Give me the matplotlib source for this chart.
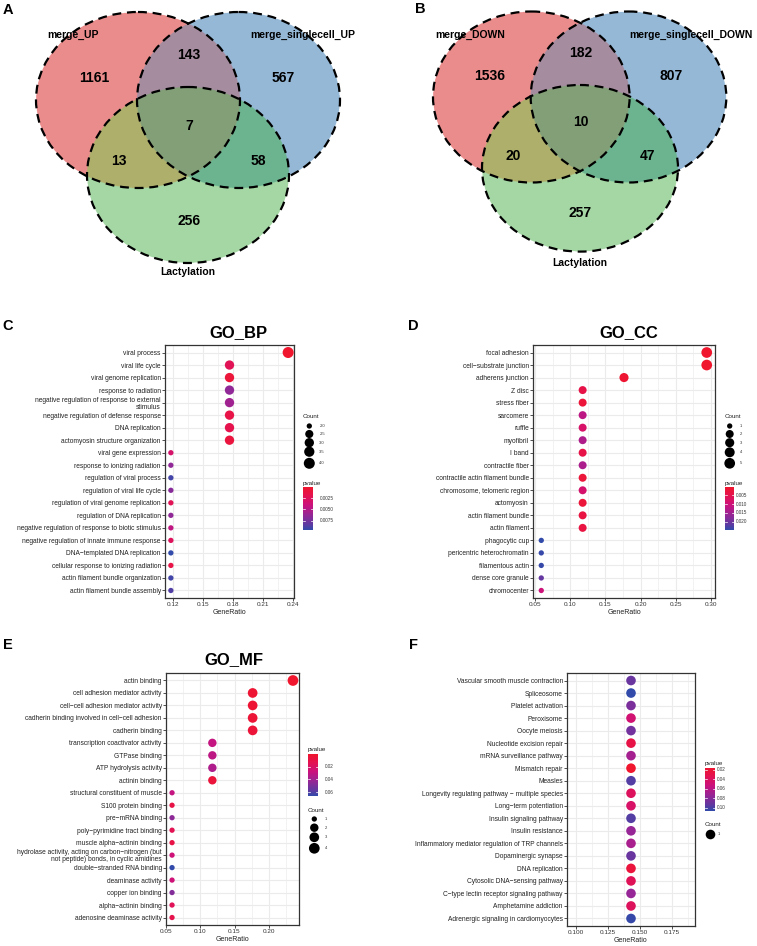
import numpy as np
import matplotlib
matplotlib.use('Agg')
import matplotlib.pyplot as plt
from matplotlib.patches import Ellipse
from matplotlib.colors import LinearSegmentedColormap, Normalize

plt.rcParams['font.family'] = ['Liberation Sans', 'DejaVu Sans']

# ---------------- DATA ----------------
venn_a_sets = ['merge_UP', 'merge_singlecell_UP', 'Lactylation']
venn_b_sets = ['merge_DOWN', 'merge_singlecell_DOWN', 'Lactylation']
venn_regions = ['100', '110', '010', '111', '101', '011', '001']
venn_a_values = [1161, 143, 567, 7, 13, 58, 256]
venn_b_values = [1536, 182, 807, 10, 20, 47, 257]

bp_terms = ['viral process', 'viral life cycle', 'viral genome replication', 'response to radiation',
            'negative regulation of response to external\nstimulus', 'negative regulation of defense response',
            'DNA replication', 'actomyosin structure organization', 'viral gene expression',
            'response to ionizing radiation', 'regulation of viral process', 'regulation of viral life cycle',
            'regulation of viral genome replication', 'regulation of DNA replication',
            'negative regulation of response to biotic stimulus', 'negative regulation of innate immune response',
            'DNA\u2212templated DNA replication', 'cellular response to ionizing radiation',
            'actin filament bundle organization', 'actin filament bundle assembly']
bp_counts = [4, 3, 3, 3, 3, 3, 3, 3, 2, 2, 2, 2, 2, 2, 2, 2, 2, 2, 2, 2]
bp_total = 17
bp_pvalue = [0.00007, 0.0022, 0.0008, 0.0064, 0.0058, 0.0014, 0.0018, 0.0010, 0.0032, 0.0064,
             0.0090, 0.0068, 0.0022, 0.0064, 0.0045, 0.0025, 0.0095, 0.0014, 0.0090, 0.0086]

cc_terms = ['focal adhesion', 'cell\u2212substrate junction', 'adherens junction', 'Z disc', 'stress fiber',
            'sarcomere', 'ruffle', 'myofibril', 'I band', 'contractile fiber',
            'contractile actin filament bundle', 'chromosome, telomeric region', 'actomyosin',
            'actin filament bundle', 'actin filament', 'phagocytic cup', 'pericentric heterochromatin',
            'filamentous actin', 'dense core granule', 'chromocenter']
cc_counts = [5, 5, 3, 2, 2, 2, 2, 2, 2, 2, 2, 2, 2, 2, 2, 1, 1, 1, 1, 1]
cc_total = 17
cc_pvalue = [0.00016, 0.0003, 0.0010, 0.0040, 0.0020, 0.0120, 0.0080, 0.0135, 0.0040, 0.0140,
             0.0020, 0.0085, 0.0020, 0.0030, 0.0030, 0.0248, 0.0245, 0.0245, 0.0210, 0.0100]

mf_terms = ['actin binding', 'cell adhesion mediator activity', 'cell\u2212cell adhesion mediator activity',
            'cadherin binding involved in cell\u2212cell adhesion', 'cadherin binding',
            'transcription coactivator activity', 'GTPase binding', 'ATP hydrolysis activity',
            'actinin binding', 'structural constituent of muscle', 'S100 protein binding',
            'pre\u2212mRNA binding', 'poly\u2212pyrimidine tract binding', 'muscle alpha\u2212actinin binding',
            'hydrolase activity, acting on carbon\u2212nitrogen (but\nnot peptide) bonds, in cyclic amidines',
            'double\u2212stranded RNA binding', 'deaminase activity', 'copper ion binding',
            'alpha\u2212actinin binding', 'adenosine deaminase activity']
mf_counts = [4, 3, 3, 3, 3, 2, 2, 2, 2, 1, 1, 1, 1, 1, 1, 1, 1, 1, 1, 1]
mf_total = 17
mf_pvalue = [0.0004, 0.0030, 0.0030, 0.0040, 0.0050, 0.0300, 0.0320, 0.0360, 0.0060, 0.0300,
             0.0100, 0.0450, 0.0140, 0.0100, 0.0260, 0.0658, 0.0260, 0.0480, 0.0160, 0.0120]

kegg_terms = ['Vascular smooth muscle contraction', 'Spliceosome', 'Platelet activation', 'Peroxisome',
              'Oocyte meiosis', 'Nucleotide excision repair', 'mRNA surveillance pathway', 'Mismatch repair',
              'Measles', 'Longevity regulating pathway \u2212 multiple species', 'Long\u2212term potentiation',
              'Insulin signaling pathway', 'Insulin resistance',
              'Inflammatory mediator regulation of TRP channels', 'Dopaminergic synapse', 'DNA replication',
              'Cytosolic DNA\u2212sensing pathway', 'C\u2212type lectin receptor signaling pathway',
              'Amphetamine addiction', 'Adrenergic signaling in cardiomyocytes']
kegg_counts = [1] * 20
kegg_total = 7
kegg_pvalue = [0.092, 0.1073, 0.085, 0.050, 0.088, 0.030, 0.070, 0.0164, 0.098, 0.040,
               0.045, 0.098, 0.075, 0.068, 0.092, 0.025, 0.038, 0.075, 0.040, 0.106]

# ---------------- SETUP ----------------
W, H = 757, 946
fig = plt.figure(figsize=(W / 100, H / 100), dpi=100)


def add_px_axes(x0, y0, x1, y1):
    return fig.add_axes([x0 / W, 1 - y1 / H, (x1 - x0) / W, (y1 - y0) / H])


ov = fig.add_axes([0, 0, 1, 1])
ov.set_xlim(0, W)
ov.set_ylim(H, 0)
ov.axis('off')

# low p = red, high p = blue (vivid magenta / purple midtones)
cmap = LinearSegmentedColormap.from_list('pv', [
    (0.00, (240 / 255, 22 / 255, 45 / 255)),
    (0.20, (228 / 255, 18 / 255, 80 / 255)),
    (0.42, (203 / 255, 18 / 255, 125 / 255)),
    (0.65, (150 / 255, 38 / 255, 150 / 255)),
    (0.85, (100 / 255, 55 / 255, 160 / 255)),
    (1.00, (50 / 255, 75 / 255, 170 / 255)),
])

# ---------------- VENN ----------------
# colour of each region (membership code red/blue/green)
venn_region_colors = {
    '100': (235, 140, 140), '010': (150, 185, 215), '001': (165, 215, 165),
    '110': (165, 140, 160), '101': (175, 175, 108), '011': (108, 180, 145),
    '111': (130, 160, 120),
}


def venn(box, ellipses, sets, values, label_xy, value_xy):
    x0, y0, x1, y1 = box
    ss = 3
    xs = x0 + (np.arange((x1 - x0) * ss) + 0.5) / ss
    ys = y0 + (np.arange((y1 - y0) * ss) + 0.5) / ss
    X, Y = np.meshgrid(xs, ys)
    inside = [((X - cx) / rx) ** 2 + ((Y - cy) / ry) ** 2 <= 1 for (cx, cy, rx, ry) in ellipses]
    img = np.ones(X.shape + (4,))
    img[..., 3] = 0
    for code, col in venn_region_colors.items():
        m = np.ones(X.shape, bool)
        for k, ch in enumerate(code):
            m &= inside[k] if ch == '1' else ~inside[k]
        img[m, :3] = np.array(col) / 255
        img[m, 3] = 1
    ov.imshow(img, extent=[x0, x1, y1, y0], origin='upper', interpolation='antialiased', zorder=1)
    for (cx, cy, rx, ry) in ellipses:
        ov.add_patch(Ellipse((cx, cy), 2 * rx, 2 * ry, facecolor='none', edgecolor='black',
                             lw=1.6, linestyle=(0, (4, 2.6)), zorder=2))
    for s, (x, y) in zip(sets, label_xy):
        ov.text(x, y, s, ha='center', va='center', fontsize=7.5, fontweight='bold', zorder=3)
    for v, (x, y) in zip(values, value_xy):
        ov.text(x, y, str(v), ha='center', va='center', fontsize=10, fontweight='bold', zorder=3)


venn((20, 0, 360, 280), [(138, 100, 102, 88), (238.5, 100, 101.5, 88), (188, 175, 101, 88)],
     venn_a_sets, venn_a_values,
     [(73, 35), (303, 35), (188, 272)],
     [(94, 78), (189, 55), (283, 78), (189, 126), (119, 161), (258, 161), (189, 221)])
venn((420, 0, 745, 270), [(531.3, 97, 98.3, 85.5), (628.5, 97, 97.8, 85.5), (580, 168.3, 98, 83.3)],
     venn_b_sets, venn_b_values,
     [(470, 35), (691, 35), (580, 263)],
     [(490, 76), (581, 53), (671, 76), (581, 122), (513, 156), (647, 156), (580, 213)])
ov.set_xlim(0, W)
ov.set_ylim(H, 0)

# panel letters
for letter, (x, y) in zip('ABCDEF', [(7.5, 9.5), (420.5, 9), (7.5, 325.5), (413.5, 326), (7.5, 645), (413.5, 645)]):
    ov.text(x, y, letter, ha='center', va='center', fontsize=10.5, fontweight='bold')


# ---------------- DOT PLOTS ----------------
def size_px(c, cmin, cmax, dmin, dmax):
    c = np.asarray(c, float)
    if cmax == cmin:
        frac = np.full_like(c, 0.5)
    else:
        frac = (c - cmin) / (cmax - cmin)
    return dmin + (dmax - dmin) * np.sqrt(frac)


def dotplot(box, terms, counts, total, pvals, xticks, xticklabels, xminor, dmin, dmax,
            cb_box, cb_ticks, cb_labels, cb_label_x, cb_title_y,
            sz_vals, sz_labels, sz_ys, sz_x, sz_label_x, sz_title_y, title=None, title_xy=None):
    ax = add_px_axes(*box)
    counts = np.asarray(counts)
    ratio = counts / total
    n = len(terms)
    y = np.arange(n)
    lo_, hi_ = ratio.min(), ratio.max()
    rng = hi_ - lo_
    pad = 0.05 * rng if rng > 0 else 0.05
    ax.set_xlim(lo_ - pad, hi_ + pad)
    ax.set_ylim(n - 1 + 0.6, -0.6)
    norm = Normalize(vmin=min(pvals), vmax=max(pvals))
    cmin, cmax = counts.min(), counts.max()
    d = size_px(counts, cmin, cmax, dmin, dmax)
    ax.scatter(ratio, y, s=(d * 0.72) ** 2, c=pvals, cmap=cmap, norm=norm, linewidths=0, zorder=3)
    for xv in xticks:
        ax.axvline(xv, color='#EBEBEB', lw=0.8, zorder=0)
    for xv in xminor:
        ax.axvline(xv, color='#EBEBEB', lw=0.45, zorder=0)
    for yv in y:
        ax.axhline(yv, color='#EBEBEB', lw=0.8, zorder=0)
    ax.set_yticks(y)
    ax.set_yticklabels(terms)
    for lab in ax.get_yticklabels():
        lab.set_linespacing(1.0)
    ax.set_xticks(xticks)
    ax.set_xticklabels(xticklabels)
    ax.tick_params(axis='y', length=2, width=0.6, color='#333333', labelsize=4.8, pad=1, labelcolor='#222222')
    ax.tick_params(axis='x', length=2, width=0.6, color='#333333', labelsize=4.6, pad=1, labelcolor='#333333')
    ax.set_xlabel('GeneRatio', fontsize=5, labelpad=1, color='#222222')
    for sp in ax.spines.values():
        sp.set_color('#333333')
        sp.set_linewidth(0.9)
    if title:
        ov.text(title_xy[0], title_xy[1], title, ha='center', va='center', fontsize=12, fontweight='bold')

    # colour bar
    cax = add_px_axes(*cb_box)
    vmin, vmax = norm.vmin, norm.vmax
    grad = np.linspace(vmin, vmax, 256).reshape(-1, 1)
    cax.imshow(grad, aspect='auto', cmap=cmap, norm=norm, extent=[0, 1, vmax, vmin])
    cax.set_xlim(0, 1)
    cax.set_ylim(vmax, vmin)
    cax.axis('off')
    bw = cb_box[2] - cb_box[0]
    for t, lab in zip(cb_ticks, cb_labels):
        cax.plot([0, 0.2], [t, t], color='white', lw=0.5)
        cax.plot([0.8, 1], [t, t], color='white', lw=0.5)
        cax.text(1 + (cb_label_x - cb_box[2]) / bw, t, lab, transform=cax.get_yaxis_transform(),
                 ha='left', va='center', fontsize=3.3, color='#333333')
    ov.text(cb_box[0], cb_title_y, 'pvalue', ha='left', va='center', fontsize=4.5, color='#222222')

    # size legend
    ds = size_px(sz_vals, cmin, cmax, dmin, dmax)
    ov.scatter([sz_x] * len(sz_vals), sz_ys, s=(ds * 0.72) ** 2, color='black', linewidths=0)
    for lab, yy in zip(sz_labels, sz_ys):
        ov.text(sz_label_x, yy, lab, ha='left', va='center', fontsize=3.0, color='#333333')
    ov.text(cb_box[0], sz_title_y, 'Count', ha='left', va='center', fontsize=4.5, color='#222222')


dotplot((165, 345, 294, 598), bp_terms, bp_counts, bp_total, bp_pvalue,
        [0.12, 0.15, 0.18, 0.21, 0.24], ['0.12', '0.15', '0.18', '0.21', '0.24'],
        [0.135, 0.165, 0.195, 0.225], 5.3, 11.0,
        (303, 487, 313, 530), [0.0025, 0.005, 0.0075], ['0.0025', '0.0050', '0.0075'], 320, 483,
        [2.0, 2.5, 3.0, 3.5, 4.0], ['2.0', '2.5', '3.0', '3.5', '4.0'],
        [426, 434, 442.7, 451.7, 463.3], 309.3, 319.3, 416.5,
        title='GO_BP', title_xy=(238, 333))

dotplot((533, 345, 715, 598), cc_terms, cc_counts, cc_total, cc_pvalue,
        [0.05, 0.10, 0.15, 0.20, 0.25, 0.30], ['0.05', '0.10', '0.15', '0.20', '0.25', '0.30'],
        [0.075, 0.125, 0.175, 0.225, 0.275], 5.3, 10.7,
        (725, 487, 734, 530), [0.005, 0.010, 0.015, 0.020], ['0.005', '0.010', '0.015', '0.020'], 736, 483,
        [1, 2, 3, 4, 5], ['1', '2', '3', '4', '5'],
        [426, 434, 442.7, 452.3, 463.3], 729.7, 739.7, 416.5,
        title='GO_CC', title_xy=(629, 333))

dotplot((166, 673, 299, 925), mf_terms, mf_counts, mf_total, mf_pvalue,
        [0.05, 0.10, 0.15, 0.20], ['0.05', '0.10', '0.15', '0.20'],
        [0.075, 0.125, 0.175, 0.225], 5.3, 10.7,
        (308, 754, 318, 796), [0.02, 0.04, 0.06], ['0.02', '0.04', '0.06'], 325, 749,
        [1, 2, 3, 4], ['1', '2', '3', '4'],
        [819, 827.7, 837.3, 848.3], 314.3, 325, 810,
        title='GO_MF', title_xy=(234, 660))

dotplot((567, 673, 695, 926), kegg_terms, kegg_counts, kegg_total, kegg_pvalue,
        [0.100, 0.125, 0.150, 0.175], ['0.100', '0.125', '0.150', '0.175'],
        [0.1125, 0.1375, 0.1625, 0.1875], 5.3, 11.4,
        (705, 768, 715, 811), [0.02, 0.04, 0.06, 0.08, 0.10], ['0.02', '0.04', '0.06', '0.08', '0.10'], 717, 763.5,
        [1], ['1'], [834], 709.7, 718, 824.5)

fig.savefig('out.png', dpi=100)
